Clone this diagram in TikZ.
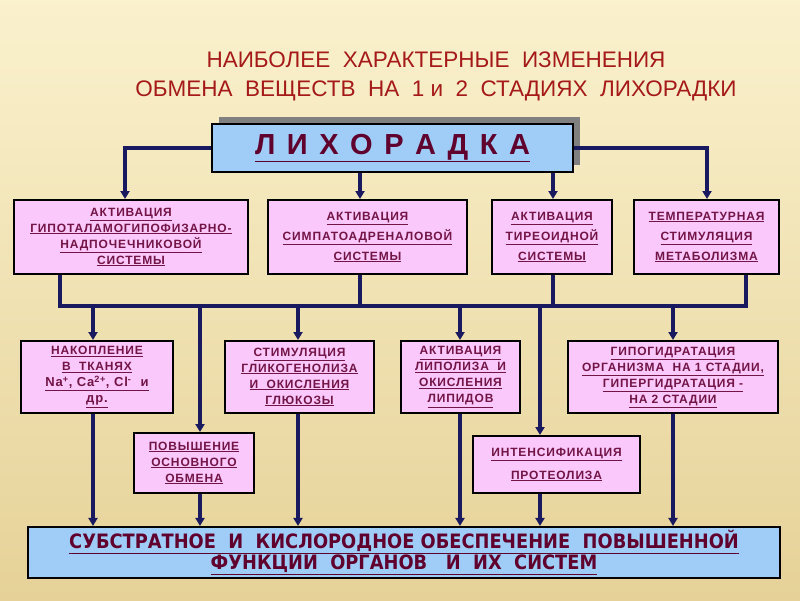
\documentclass[tikz,border=0pt]{standalone}
\usepackage{fontspec}
\setmainfont{Liberation Sans}
\newfontfamily\boxfont[LetterSpace=7]{Liberation Sans}
\newfontfamily\headfont[LetterSpace=12]{Liberation Sans}
\newfontfamily\basefont{DejaVu Sans Condensed}
\usetikzlibrary{arrows.meta,shadows}
\definecolor{bgtop}{RGB}{250,241,205}
\definecolor{bgbot}{RGB}{230,210,152}
\definecolor{pinkfill}{RGB}{250,200,250}
\definecolor{bluefill}{RGB}{160,205,248}
\definecolor{titlered}{RGB}{165,25,25}
\definecolor{boxtext}{RGB}{115,20,70}
\definecolor{darktext}{RGB}{95,0,45}
\definecolor{navy}{RGB}{25,25,95}
\newcommand{\ul}[1]{\underline{#1}}

\begin{document}
\begin{tikzpicture}[x=1pt,y=-1pt,
   pinkbox/.style={draw=black,line width=2pt,fill=pinkfill,text=boxtext,align=center,
     inner sep=1pt,font=\boxfont\bfseries\fontsize{12}{16}\selectfont},
   bluebox/.style={draw=black,line width=2.5pt,fill=bluefill,text=darktext,align=center},
   link/.style={draw=navy,line width=3.5pt},
   arr/.style={link,-{Triangle[length=8pt,width=9pt]}}]
\fill[top color=bgtop,bottom color=bgbot] (0,0) rectangle (800,600);
\useasboundingbox (0,0) rectangle (800,600);
\node[text=titlered,align=center,font=\fontsize{22.5}{29}\selectfont] (title) at (436,76.5)
   {НАИБОЛЕЕ ~ХАРАКТЕРНЫЕ ~ИЗМЕНЕНИЯ\\ОБМЕНА ~ВЕЩЕСТВ ~НА ~1 и ~2 ~СТАДИЯХ ~ЛИХОРАДКИ};
\node[bluebox,minimum width=361,minimum height=48,
   drop shadow={shadow xshift=7pt,shadow yshift=7pt,fill=gray,opacity=1},
   font=\headfont\bfseries\fontsize{29}{30}\selectfont] (lih) at (392.5,148)
   {\ul{Л И Х О Р А Д К А}};
% first row
\node[pinkbox,minimum width=234,minimum height=74] (act1) at (131,237)
   {\ul{АКТИВАЦИЯ}\\\ul{ГИПОТАЛАМОГИПОФИЗАРНО-}\\\ul{НАДПОЧЕЧНИКОВОЙ}\\\ul{СИСТЕМЫ}};
\node[pinkbox,minimum width=199,minimum height=74] (act2) at (367.5,237)
   {\ul{АКТИВАЦИЯ}\\[4pt]\ul{СИМПАТОАДРЕНАЛОВОЙ}\\[4pt]\ul{СИСТЕМЫ}};
\node[pinkbox,minimum width=120,minimum height=74] (act3) at (552,237)
   {\ul{АКТИВАЦИЯ}\\[4pt]\ul{ТИРЕОИДНОЙ}\\[4pt]\ul{СИСТЕМЫ}};
\node[pinkbox,minimum width=145,minimum height=74] (temp) at (706.5,237)
   {\ul{ТЕМПЕРАТУРНАЯ}\\[4pt]\ul{СТИМУЛЯЦИЯ}\\[4pt]\ul{МЕТАБОЛИЗМА}};
% second row
\node[pinkbox,minimum width=152,minimum height=72] (acc) at (97,377)
   {\ul{НАКОПЛЕНИЕ}\\\ul{В ~ТКАНЯХ}\\
    {\fontsize{13}{18}\selectfont\ul{Na\textsuperscript{+}, Ca\textsuperscript{2+}, Cl\textsuperscript{-} ~и}}\\
    {\fontsize{13}{18}\selectfont\ul{др.}}};
\node[pinkbox,minimum width=149,minimum height=72] (glyc) at (299.5,377)
   {\ul{СТИМУЛЯЦИЯ}\\\ul{ГЛИКОГЕНОЛИЗА}\\\ul{И ~ОКИСЛЕНИЯ}\\\ul{ГЛЮКОЗЫ}};
\node[pinkbox,minimum width=119,minimum height=72] (lipo) at (460.5,377)
   {\ul{АКТИВАЦИЯ}\\\ul{ЛИПОЛИЗА ~И}\\\ul{ОКИСЛЕНИЯ}\\\ul{ЛИПИДОВ}};
\node[pinkbox,minimum width=210,minimum height=72] (hydr) at (673,377)
   {\ul{ГИПОГИДРАТАЦИЯ}\\\ul{ОРГАНИЗМА ~НА 1 СТАДИИ,}\\\ul{ГИПЕРГИДРАТАЦИЯ -}\\\ul{НА 2 СТАДИИ}};
% third row
\node[pinkbox,minimum width=120,minimum height=60] (bmr) at (194,463)
   {\ul{ПОВЫШЕНИЕ}\\\ul{ОСНОВНОГО}\\\ul{ОБМЕНА}};
\node[pinkbox,minimum width=167,minimum height=57] (prot) at (556.5,464.5)
   {\ul{ИНТЕНСИФИКАЦИЯ}\\[7pt]\ul{ПРОТЕОЛИЗА}};
\node[bluebox,line width=2pt,minimum width=752,minimum height=51,
   font=\basefont\bfseries\fontsize{19.8}{21}\selectfont] (supp) at (404,552.5)
   {\ul{СУБСТРАТНОЕ ~И ~КИСЛОРОДНОЕ ОБЕСПЕЧЕНИЕ ~ПОВЫШЕННОЙ}\\
    \ul{ФУНКЦИИ ~ОРГАНОВ ~~И ~ИХ ~СИСТЕМ}};
% columns
\coordinate (c1) at (125,0);
\coordinate (c2) at (360,0);
\coordinate (c3) at (553,0);
\coordinate (c4) at (707,0);
\coordinate (d1) at (60,0);
\coordinate (d4) at (746,0);
\coordinate (bus) at (0,306);
\coordinate (e1) at (93,0);
\coordinate (e2) at (200,0);
\coordinate (e3) at (298,0);
\coordinate (e4) at (460,0);
\coordinate (e5) at (540,0);
\coordinate (e6) at (673,0);
\draw[arr] (lih.west) -| (c1 |- act1.north);
\draw[arr] (lih.east) -| (c4 |- temp.north);
\draw[arr] (lih.south -| c2) -- (c2 |- act2.north);
\draw[arr] (lih.south -| c3) -- (c3 |- act3.north);
\draw[link] (act1.south -| d1) |- (bus -| d4) -- (temp.south -| d4);
\draw[link] (act2.south -| c2) -- (bus -| c2);
\draw[link] (act3.south -| c3) -- (bus -| c3);
\draw[arr] (bus -| e1) -- (e1 |- acc.north);
\draw[arr] (bus -| e2) -- (e2 |- bmr.north);
\draw[arr] (bus -| e3) -- (e3 |- glyc.north);
\draw[arr] (bus -| e4) -- (e4 |- lipo.north);
\draw[arr] (bus -| e5) -- (e5 |- prot.north);
\draw[arr] (bus -| e6) -- (e6 |- hydr.north);
\draw[arr] (acc.south -| e1) -- (e1 |- supp.north);
\draw[arr] (bmr.south -| e2) -- (e2 |- supp.north);
\draw[arr] (glyc.south -| e3) -- (e3 |- supp.north);
\draw[arr] (lipo.south -| e4) -- (e4 |- supp.north);
\draw[arr] (prot.south -| e5) -- (e5 |- supp.north);
\draw[arr] (hydr.south -| e6) -- (e6 |- supp.north);
\end{tikzpicture}
\end{document}
